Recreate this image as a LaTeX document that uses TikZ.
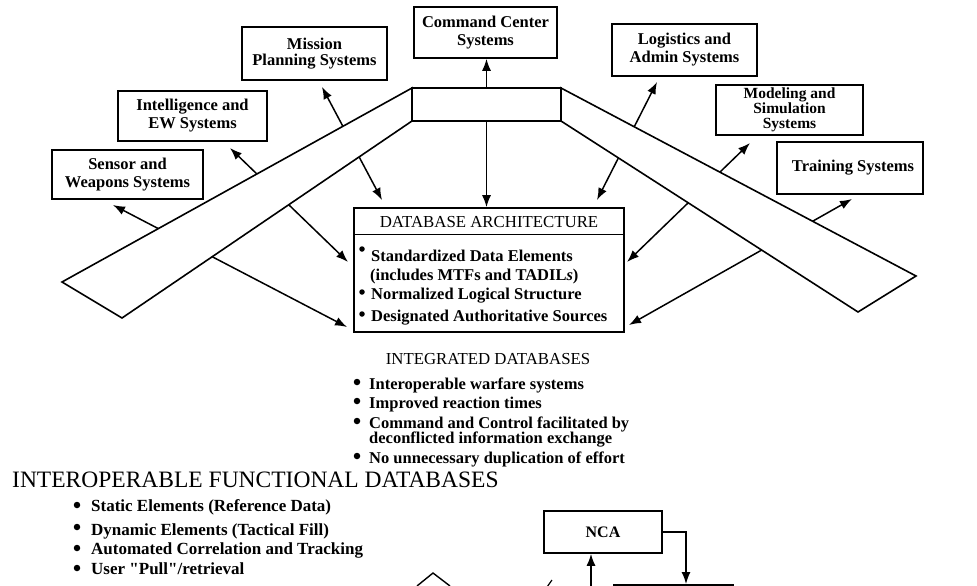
\documentclass[tikz,border=0pt]{standalone}
\usepackage{fontspec}
\setmainfont{Liberation Serif}
\usetikzlibrary{arrows.meta}
\begin{document}
\begin{tikzpicture}[x=1pt,y=-1pt,
  sysbox/.style={draw, line width=1.6pt, fill=white, align=center, inner sep=0pt, font=\bfseries\fontsize{16.5}{18}\selectfont},
  plainbox/.style={draw, line width=1.6pt, fill=white, inner sep=0pt},
  conn/.style={line width=1.5pt},
  dbl/.style={conn, {Latex[length=12pt,width=9pt]}-{Latex[length=12pt,width=9pt]}},
  sgl/.style={conn, -{Latex[length=12pt,width=9pt]}},
  wing/.style={draw, fill=white, line width=1.6pt, line join=miter},
  btxt/.style={anchor=base west, inner sep=0pt, font=\bfseries\fontsize{16.5}{18}\selectfont},
  ltxt/.style={anchor=base west, inner sep=0pt, font=\bfseries\fontsize{17}{18}\selectfont},
  rtxt/.style={anchor=base, inner sep=0pt, font=\fontsize{16.8}{18}\selectfont},
  bigtxt/.style={anchor=base west, inner sep=0pt, font=\fontsize{23.5}{25}\selectfont},
  dot/.style={circle, fill=black, inner sep=0pt, minimum size=6.5pt},
]
\clip (0,0) rectangle (977,586);
\fill[white] (0,0) rectangle (977,586);

% ---------- system boxes ----------
\node[sysbox, minimum width=143pt, minimum height=51pt] (cmd) at (485.5,32.5) {Command Center\\Systems};
\node[sysbox, font=\bfseries\fontsize{16.5}{15.5}\selectfont, minimum width=145pt, minimum height=53pt] (mission) at (314.5,53.5) {Mission\\Planning Systems};
\node[sysbox, minimum width=145pt, minimum height=52pt] (logi) at (684.5,50) {Logistics and\\Admin Systems};
\node[sysbox, minimum width=149pt, minimum height=50pt] (intel) at (192.5,116) {Intelligence and\\EW Systems};
\node[sysbox, font=\bfseries\fontsize{15.5}{15}\selectfont, minimum width=147pt, minimum height=50pt] (model) at (789.5,110) {Modeling and\\Simulation\\Systems};
\node[sysbox, minimum width=151pt, minimum height=49pt] (sensor) at (127.5,174.5) {Sensor and\\Weapons Systems};
\node[sysbox, minimum width=146pt, minimum height=52pt] (train) at (850,168) {\hspace*{6pt}Training Systems};

% ---------- database architecture box ----------
\node[plainbox, minimum width=270pt, minimum height=124pt] (db) at (489,270) {};
\draw[line width=1.4pt] ([yshift=-27pt]db.north west) -- ([yshift=-27pt]db.north east);
\node[rtxt] (dbh) at (489,227) {DATABASE ARCHITECTURE};
\node[btxt] (db1) at (371,261) {Standardized Data Elements};
\node[btxt] (db2) at (370,280) {(includes MTFs and TADIL\textit{s})};
\node[btxt] (db3) at (371,299) {Normalized Logical Structure};
\node[btxt] (db4) at (371,321) {Designated Authoritative Sources};
\node[dot, minimum size=5.5pt] (dbd1) at (362,249) {};
\node[dot, minimum size=5.5pt] (dbd3) at (362,292) {};
\node[dot, minimum size=5.5pt] (dbd4) at (362,314) {};

% ---------- arrow end points ----------
\coordinate (sA) at (113,205);  \coordinate (sB) at (347,327);
\coordinate (iA) at (230,148);  \coordinate (iB) at (348,262);
\coordinate (mA) at (322,87);   \coordinate (mB) at (382,200);
\coordinate (lA) at (657,82);   \coordinate (lB) at (597,200);
\coordinate (oA) at (750,143);  \coordinate (oB) at (627,262);
\coordinate (tA) at (852,199);  \coordinate (tB) at (629,325);

\draw[dbl] (sA) -- (sB);
\draw[dbl] (iA) -- (iB);
\draw[dbl] (mA) -- (mB);
\draw[dbl] (lA) -- (lB);
\draw[dbl] (oA) -- (oB);
\draw[dbl] (tA) -- (tB);

% ---------- wings and hub ----------
\coordinate (lw1) at (412,88);  \coordinate (lw2) at (62,282);
\coordinate (lw3) at (122,318); \coordinate (lw4) at (412,121);
\coordinate (rw1) at (561,88);  \coordinate (rw2) at (916,276);
\coordinate (rw3) at (858,312); \coordinate (rw4) at (561,121);
\draw[wing] (lw1) -- (lw2) -- (lw3) -- (lw4) -- cycle;
\draw[wing] (rw1) -- (rw2) -- (rw3) -- (rw4) -- cycle;
\node[plainbox, minimum width=149pt, minimum height=33pt] (hub) at (486.5,104.5) {};

\draw[sgl] (hub.north) -- (hub.north |- cmd.south);
\draw[sgl] (hub.south) -- (hub.south |- db.north);

% ---------- integrated databases ----------
\node[rtxt] (ih) at (488,364) {INTEGRATED DATABASES};
\node[btxt] (i1) at (369,389) {Interoperable warfare systems};
\node[btxt] (i2) at (369,408) {Improved reaction times};
\node[btxt] (i3) at (369,428) {Command and Control facilitated by};
\node[btxt] (i4) at (369,443) {deconflicted information exchange};
\node[btxt] (i5) at (369,463) {No unnecessary duplication of effort};
\node[dot] (id1) at (357,382) {};
\node[dot] (id2) at (357,401) {};
\node[dot] (id3) at (357,421) {};
\node[dot] (id5) at (357,456) {};

% ---------- functional databases ----------
\node[bigtxt] (title) at (12,487) {INTEROPERABLE FUNCTIONAL DATABASES};
\node[ltxt] (f1) at (91,511) {Static Elements (Reference Data)};
\node[ltxt] (f2) at (91,535) {Dynamic Elements (Tactical Fill)};
\node[ltxt] (f3) at (91,554) {Automated Correlation and Tracking};
\node[ltxt] (f4) at (91,574) {User \textquotedbl Pull\textquotedbl/retrieval};
\node[dot] (fd1) at (77,505) {};
\node[dot] (fd2) at (77,527) {};
\node[dot] (fd3) at (77,548) {};
\node[dot] (fd4) at (77,568) {};

% ---------- lower partial diagram ----------
\node[sysbox, font=\bfseries\fontsize{16}{18}\selectfont, minimum width=118pt, minimum height=42pt] (nca) at (603,532) {NCA};
\node[plainbox, anchor=north west, minimum width=119pt, minimum height=40pt] (low) at (613,584) {};
\coordinate (ncaTurn) at (686,532);
\draw[sgl, line width=1.3pt] (nca.east) -- (ncaTurn) -- (ncaTurn |- low.north);
\coordinate (ncaIn) at (591,600);
\draw[sgl] (ncaIn) -- (ncaIn |- nca.south);
\coordinate (dmL) at (417,586); \coordinate (dmT) at (433,573); \coordinate (dmR) at (450,586);
\draw[line width=1.4pt] (dmL) -- (dmT) -- (dmR);
\coordinate (stA) at (547,587); \coordinate (stB) at (552,580);
\draw[line width=1.2pt] (stA) -- (stB);
\end{tikzpicture}
\end{document}
